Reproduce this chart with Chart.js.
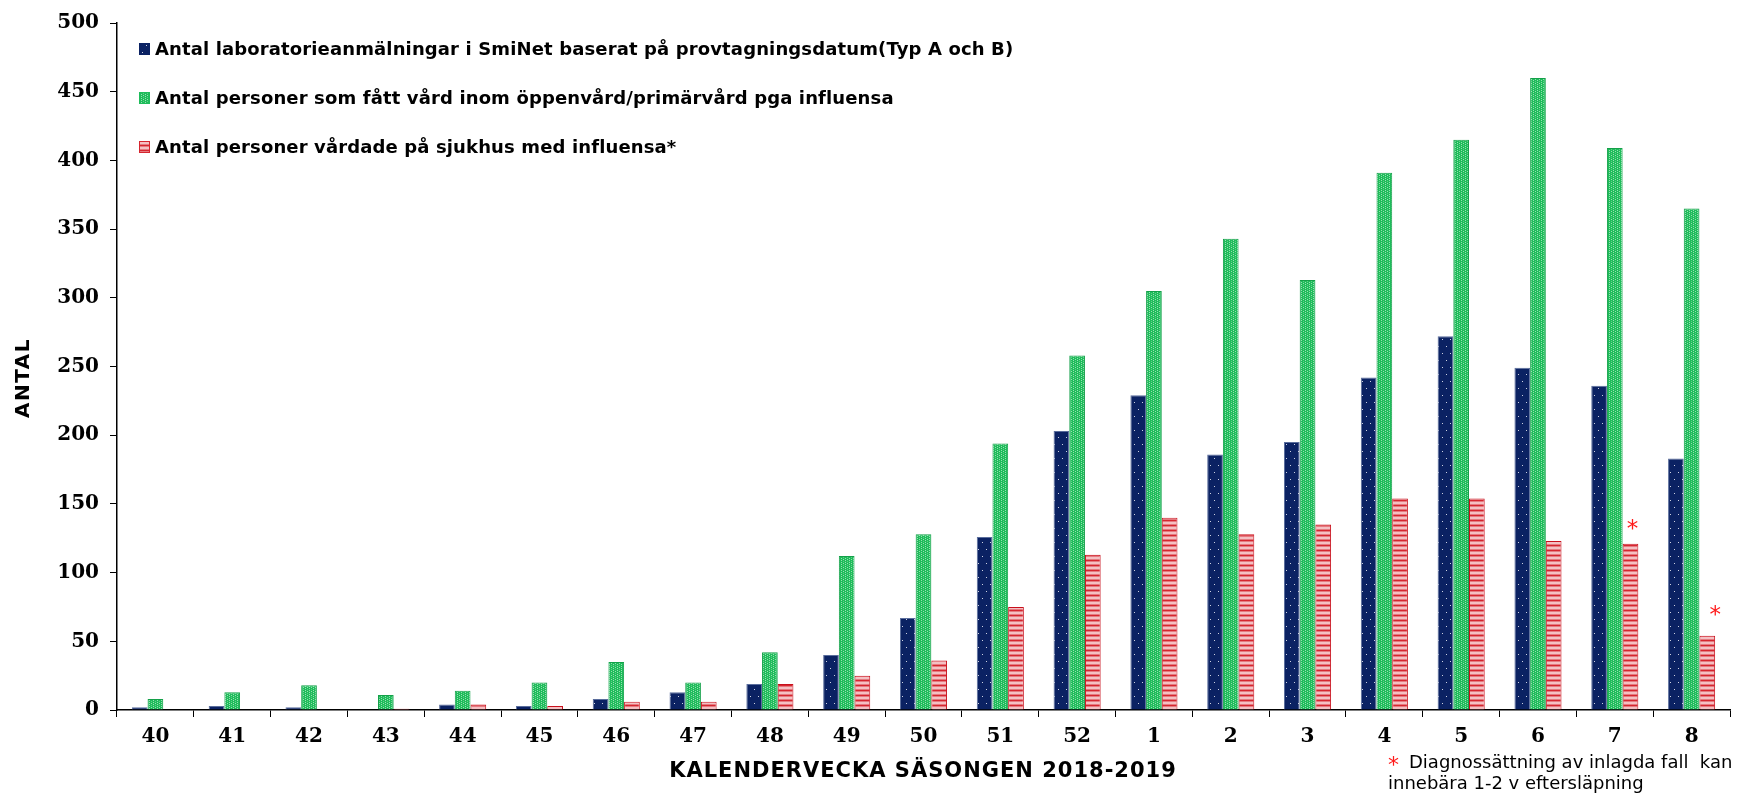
<!DOCTYPE html>
<html>
<head>
<meta charset="utf-8">
<script src="https://cdn.jsdelivr.net/npm/chart.js@4/dist/chart.umd.min.js"></script>
<style>
  html, body { margin: 0; padding: 0; background: #fff; }
  #chart { display: block; }
</style>
</head>
<body>
<canvas id="chart" width="1756" height="796"></canvas>
<script>
// kalendervecka, säsongen 2018-2019
const weeks = ['40', '41', '42', '43', '44', '45', '46', '47', '48', '49', '50', '51', '52', '1', '2', '3', '4', '5', '6', '7', '8'];

// laboratorieanmälningar i SmiNet (typ A och B)
const labReports = [2, 3, 2, 0, 4, 3, 8, 13, 19, 40, 67, 126, 203, 229, 186, 195, 242, 272, 249, 236, 183];
// personer som fått vård inom öppenvård/primärvård
const primaryCare = [8, 13, 18, 11, 14, 20, 35, 20, 42, 112, 128, 194, 258, 305, 343, 313, 391, 415, 460, 409, 365];
// personer vårdade på sjukhus
const hospitalized = [0, 0, 0, 1, 4, 3, 6, 6, 19, 25, 36, 75, 113, 140, 128, 135, 154, 154, 123, 121, 54];

const seriesLabels = [
    'Antal laboratorieanmälningar i SmiNet baserat på provtagningsdatum(Typ A och B)',
    'Antal personer som fått vård inom öppenvård/primärvård pga influensa',
    'Antal personer vårdade på sjukhus med influensa*'
];
const lagWeeks = ['7', '8'];  // veckor med eftersläpning (*)

const yMax = 500;
const yStep = 50;

function makePattern(w, h, draw) {
    const c = document.createElement('canvas');
    c.width = w;
    c.height = h;
    const g = c.getContext('2d');
    draw(g);
    return g.createPattern(c, 'repeat');
}

const navyFill = makePattern(8, 14, g => {
    g.fillStyle = '#0b2263';
    g.fillRect(0, 0, 8, 14);
    g.fillStyle = 'rgba(255,255,255,0.8)';
    g.fillRect(2, 3, 1, 1);
    g.fillRect(6, 10, 1, 1);
});

const greenFill = makePattern(4, 4, g => {
    g.fillStyle = '#1fbc5b';
    g.fillRect(0, 0, 4, 4);
    g.fillStyle = '#95e0b0';
    g.fillRect(1, 0, 1, 1);
    g.fillRect(1, 2, 1, 1);
    g.fillRect(3, 3, 1, 1);
    g.fillStyle = '#62cd88';
    g.fillRect(3, 1, 1, 1);
});

const redFill = makePattern(4, 5, g => {
    g.fillStyle = '#f4c0c3';
    g.fillRect(0, 0, 4, 5);
    g.fillStyle = '#d6262f';
    g.fillRect(0, 0, 4, 1);
    g.fillStyle = '#e57a80';
    g.fillRect(0, 1, 4, 1);
    g.fillRect(0, 4, 4, 1);
});

const extraText = {
    id: 'extraText',
    afterDraw(chart) {
        const ctx = chart.ctx;
        ctx.save();
        ctx.fillStyle = '#000';

        // y-axelns titel
        ctx.save();
        ctx.translate(24, 378);
        ctx.rotate(-Math.PI / 2);
        ctx.font = 'bold 20px "DejaVu Sans"';
        ctx.letterSpacing = '1.5px';
        ctx.textAlign = 'center';
        ctx.textBaseline = 'middle';
        ctx.fillText('ANTAL', 0, 0);
        ctx.restore();

        // x-axelns titel
        ctx.font = 'bold 21px "DejaVu Sans"';
        ctx.letterSpacing = '1px';
        ctx.textAlign = 'center';
        ctx.textBaseline = 'middle';
        ctx.fillText('KALENDERVECKA SÄSONGEN 2018-2019', 923, 772);

        // legend
        const fills = [navyFill, greenFill, redFill];
        const borders = ['#0b2263', '#1fbc5b', '#d6262f'];
        const rowsY = [49, 98, 147];
        ctx.font = 'bold 18px "DejaVu Sans"';
        ctx.letterSpacing = '0.13px';
        ctx.textAlign = 'left';
        seriesLabels.forEach((label, i) => {
            ctx.fillStyle = fills[i];
            ctx.fillRect(139, rowsY[i] - 6, 11, 12);
            ctx.strokeStyle = borders[i];
            ctx.lineWidth = 1;
            ctx.strokeRect(139.5, rowsY[i] - 5.5, 10, 11);
            ctx.fillStyle = '#000';
            ctx.fillText(label, 155, rowsY[i] + 1);
        });

        // asterisker över sjukhusstaplarna
        const meta = chart.getDatasetMeta(2);
        ctx.font = '23px "DejaVu Sans"';
        ctx.letterSpacing = '0px';
        ctx.fillStyle = '#ff1a1a';
        ctx.textAlign = 'center';
        lagWeeks.forEach((w, k) => {
            const bar = meta.data[weeks.indexOf(w)];
            const dx = k === 0 ? 2 : 8;
            const dy = k === 0 ? 14 : 20;
            ctx.fillText('*', bar.x + dx, bar.y - dy);
        });

        // fotnot
        ctx.textAlign = 'left';
        ctx.font = '22px "DejaVu Sans"';
        ctx.fillText('*', 1388, 766);
        ctx.fillStyle = '#000';
        ctx.font = '18px "DejaVu Sans"';
        ctx.fillText('Diagnossättning av inlagda fall  kan', 1409, 763);
        ctx.fillText('innebära 1-2 v eftersläpning', 1388, 784);
        ctx.restore();
    }
};

new Chart(document.getElementById('chart'), {
    type: 'bar',
    data: {
        labels: weeks,
        datasets: [
            { label: seriesLabels[0], data: labReports, backgroundColor: navyFill, borderColor: '#5a6d9c', borderWidth: 1 },
            { label: seriesLabels[1], data: primaryCare, backgroundColor: greenFill, borderColor: '#14a049', borderWidth: 1 },
            { label: seriesLabels[2], data: hospitalized, backgroundColor: redFill, borderColor: '#c8101c', borderWidth: 1 }
        ]
    },
    options: {
        responsive: false,
        animation: false,
        events: [],
        layout: { padding: { left: 0, right: 26, top: 17, bottom: 0 } },
        datasets: { bar: { categoryPercentage: 0.613, barPercentage: 1.0 } },
        plugins: {
            legend: { display: false },
            tooltip: { enabled: false }
        },
        scales: {
            x: {
                grid: { display: true, drawOnChartArea: false, drawTicks: true, tickLength: 7, color: '#000', offset: true },
                border: { display: true, color: '#000', width: 1.5 },
                ticks: {
                    color: '#000',
                    padding: 8,
                    maxRotation: 0,
                    autoSkip: false,
                    font: { family: '"DejaVu Serif"', size: 20, weight: 'bold' }
                },
                afterFit(scale) { scale.height = 86; }
            },
            y: {
                min: 0,
                max: yMax,
                grid: { display: true, drawOnChartArea: false, drawTicks: true, tickLength: 7, color: '#000' },
                border: { display: true, color: '#000', width: 1.5 },
                ticks: {
                    stepSize: yStep,
                    color: '#000',
                    padding: 11,
                    font: { family: '"DejaVu Serif"', size: 20, weight: 'bold' }
                },
                afterFit(scale) { scale.width = 117; }
            }
        }
    },
    plugins: [extraText]
});
</script>
</body>
</html>
